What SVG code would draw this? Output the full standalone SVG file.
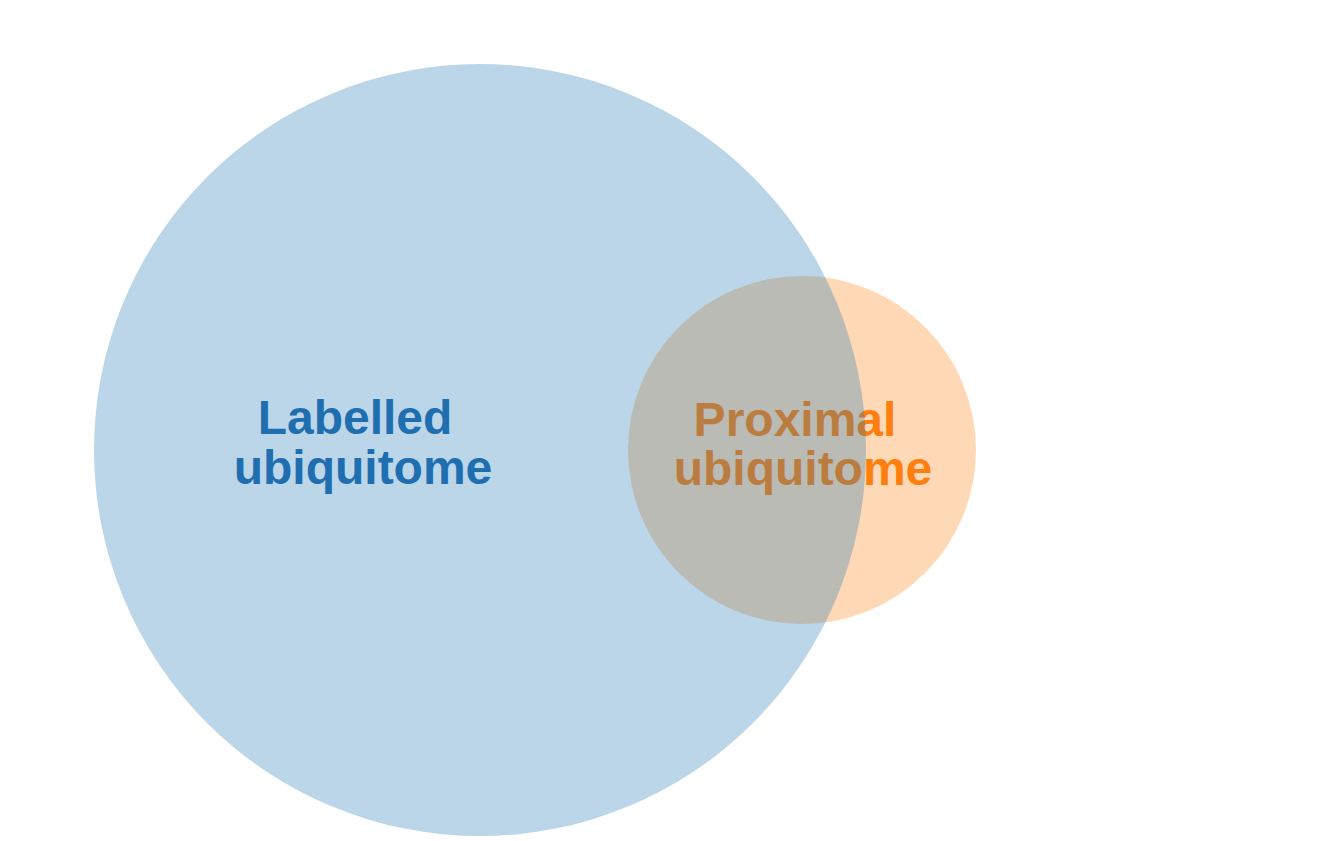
<svg xmlns="http://www.w3.org/2000/svg" width="1337" height="841" viewBox="0 0 1337 841">
<style>
.t{font-family:"Liberation Sans",Arial,sans-serif;font-weight:bold;font-size:48px;text-anchor:middle}
</style>
<rect width="1337" height="841" fill="#fff"/>
<g id="proximal">
<circle cx="802" cy="450" r="174" fill="#ff7f0e" fill-opacity="0.3"/>
<text class="t" x="795" y="436" fill="#ff7f0e">Proximal</text>
<text class="t" x="803" y="485" fill="#ff7f0e">ubiquitome</text>
</g>
<g id="labelled">
<circle cx="480" cy="450" r="386" fill="#1f77b4" fill-opacity="0.3"/>
<text class="t" x="355" y="434" fill="#1f6fb0">Labelled</text>
<text class="t" x="363" y="484" fill="#1f6fb0">ubiquitome</text>
</g>
<g id="connectors"/>
</svg>
